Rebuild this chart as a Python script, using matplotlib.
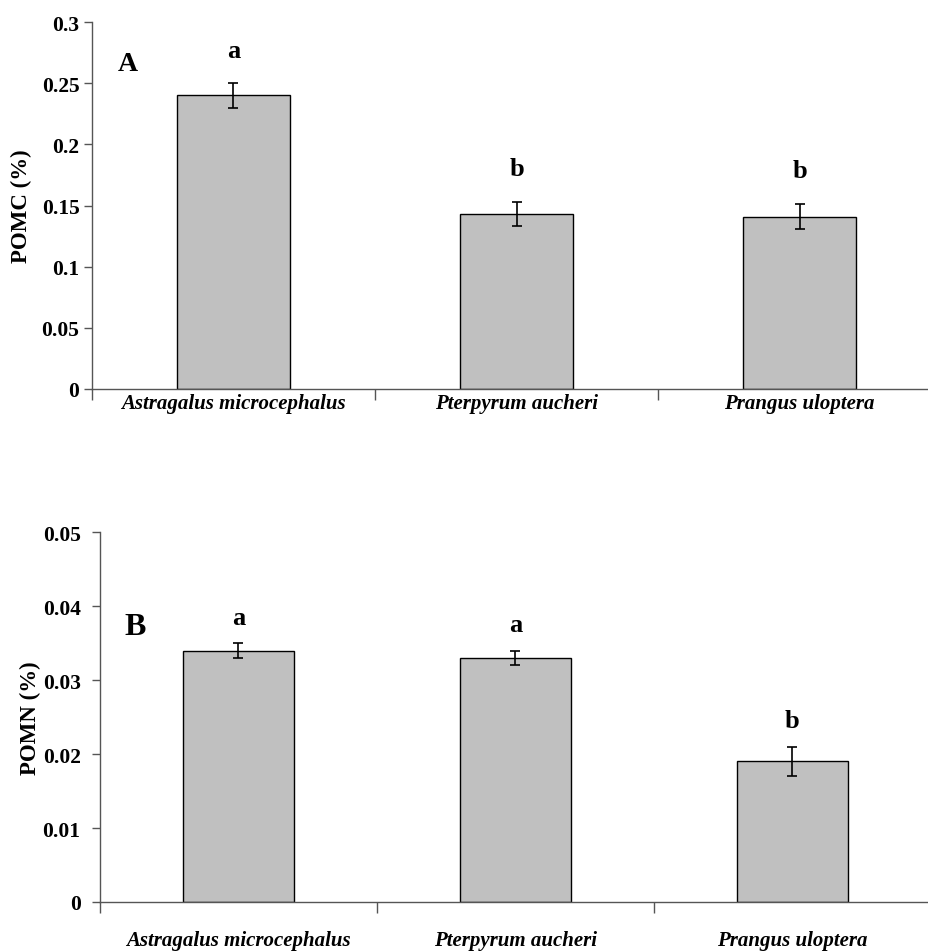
import matplotlib
matplotlib.use("Agg")
import matplotlib.pyplot as plt
import numpy as np

# species on the x axis
species = ["Astragalus microcephalus", "Pterpyrum aucheri", "Prangus uloptera"]

# panel A: particulate organic matter carbon
pomc = [0.240, 0.143, 0.141]
pomc_err = [0.010, 0.010, 0.0105]
pomc_letters = ["a", "b", "b"]

# panel B: particulate organic matter nitrogen
pomn = [0.034, 0.033, 0.019]
pomn_err = [0.001, 0.001, 0.002]
pomn_letters = ["a", "a", "b"]

plt.rcParams["font.family"] = "Liberation Serif"
plt.rcParams["font.weight"] = "bold"

fig = plt.figure(figsize=(9.29, 9.53), dpi=100)
axA = fig.add_axes([0.099, 0.5908, 0.914, 0.385])
axB = fig.add_axes([0.1076, 0.0525, 0.8945, 0.388])


def draw_panel(ax, vals, errs, letters, ymax, ystep, ylabel, tag, tag_y,
               letter_off, xpad, ypad, ylabelpad, tagsize):
    x = np.arange(len(vals)) + 0.5
    ax.bar(x, vals, width=0.4, color="#c0c0c0", edgecolor="black", linewidth=1.0, zorder=2)
    ax.errorbar(x, vals, yerr=errs, fmt="none", ecolor="black", elinewidth=1.2,
                capsize=3.6, capthick=1.2, zorder=3)
    for xi, v, e, lab in zip(x, vals, errs, letters):
        ax.text(xi, v + e + letter_off, lab, ha="center", va="center",
                fontsize=19, fontweight="bold")
    ax.text(0.127, tag_y, tag, ha="center", va="center", fontsize=tagsize,
            fontweight="bold")

    ax.set_xlim(0, len(vals))
    ax.set_ylim(0, ymax)
    ticks = np.arange(0, ymax + ystep / 2, ystep)
    ax.set_yticks(ticks)
    ax.set_yticklabels(["%g" % t for t in ticks])
    ax.set_xticks(x)
    ax.set_xticklabels(species, fontstyle="italic", fontweight="bold", fontsize=15)
    ax.set_xticks(np.arange(0, len(vals) + 1), minor=True)
    ax.tick_params(axis="x", which="major", length=0, pad=xpad)
    ax.tick_params(axis="x", which="minor", length=8, width=1, color="#555555", direction="out")
    ax.tick_params(axis="y", length=6, width=1, color="#555555", direction="out",
                   labelsize=15.5, pad=ypad)
    for lab in ax.get_yticklabels():
        lab.set_fontweight("bold")
    ax.set_ylabel(ylabel, fontsize=16.5, fontweight="bold", labelpad=ylabelpad)

    for side in ["top", "right"]:
        ax.spines[side].set_visible(False)
    for side in ["left", "bottom"]:
        ax.spines[side].set_color("#555555")
        ax.spines[side].set_linewidth(1.0)


draw_panel(axA, pomc, pomc_err, pomc_letters, 0.3, 0.05, "POMC (%)", "A", 0.266,
           0.027, 3, 3, 7, 20)
draw_panel(axB, pomn, pomn_err, pomn_letters, 0.05, 0.01, "POMN (%)", "B", 0.0373,
           0.0035, 20, 8, 1, 23)

fig.savefig("out.png", dpi=100)
